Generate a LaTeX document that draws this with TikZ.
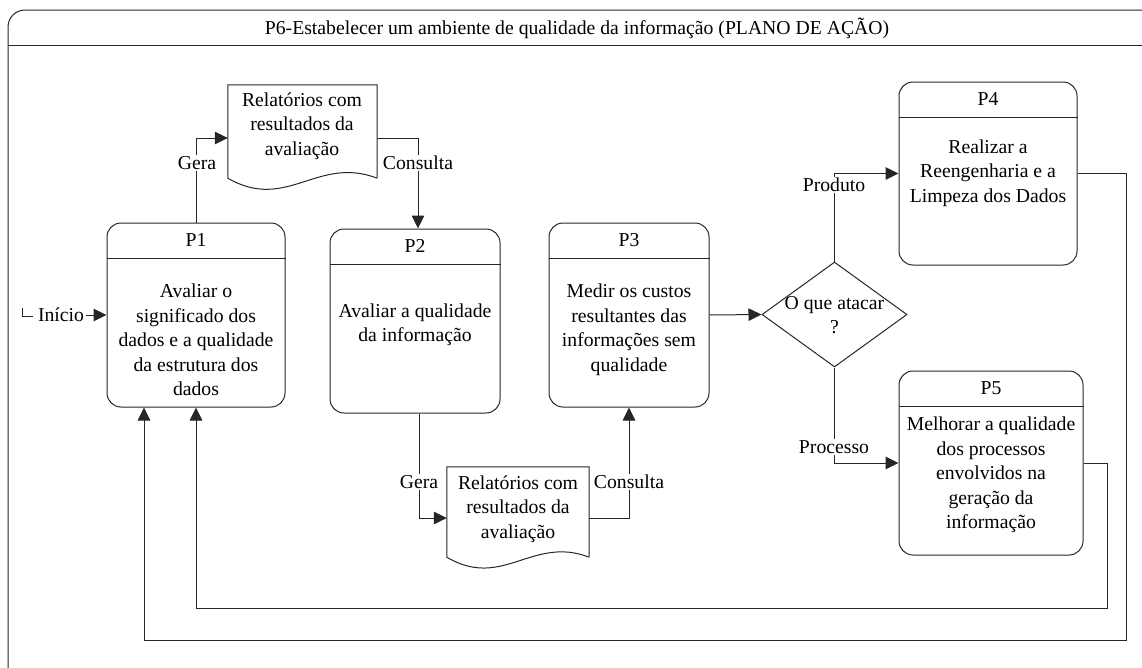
\documentclass[tikz,border=0pt]{standalone}
\usepackage{fontspec}
\setmainfont{Liberation Serif}
\usetikzlibrary{arrows.meta,shapes.geometric}
\begin{document}
\begin{tikzpicture}[x=1pt,y=-1pt,
  every node/.style={font=\fontsize{19.7}{24.5}\selectfont},
  ln/.style={line width=1pt,draw=black!85},
  arr/.style={ln,-{Triangle[length=13pt,width=12.5pt]}},
  proc/.style={ln,rectangle,rounded corners=14pt,inner sep=0pt},
  txt/.style={align=center,inner sep=1pt},
  lbl/.style={fill=white,inner sep=1.5pt},
  docu/.style={rectangle,inner sep=0pt},
]
\useasboundingbox (0,0) rectangle (1142,667);

% outer swimlane frame with its title bar
\begin{scope}
  \clip (0,0) rectangle (1142,667);
  \draw[ln,rounded corners=17pt] (8,10) rectangle (1160,685);
  \draw[ln] (8,45) -- (1160,45);
\end{scope}
\node[txt] (title) at (577,28) {P6-Estabelecer um ambiente de qualidade da informação (PLANO DE AÇÃO)};

% process boxes
\node[proc,minimum width=178pt,minimum height=184pt] (p1) at (196,315) {};
\node[proc,minimum width=170pt,minimum height=184pt] (p2) at (415,321) {};
\node[proc,minimum width=160pt,minimum height=184pt] (p3) at (629,315) {};
\node[proc,minimum width=178pt,minimum height=183pt] (p4) at (988,173.5) {};
\node[proc,minimum width=184pt,minimum height=184pt] (p5) at (991,463) {};
\foreach \p in {p1,p2,p3,p4,p5}
  \draw[ln] ([yshift=-35.5pt]\p.north west) -- ([yshift=-35.5pt]\p.north east);

\node[txt] (p1h) at ([yshift=-17.5pt]p1.north) {P1};
\node[txt] (p2h) at ([yshift=-17.5pt]p2.north) {P2};
\node[txt] (p3h) at ([yshift=-17.5pt]p3.north) {P3};
\node[txt] (p4h) at ([yshift=-17.5pt]p4.north) {P4};
\node[txt] (p5h) at ([yshift=-17.5pt]p5.north) {P5};

\node[txt] (p1t) at (196,340) {Avaliar o\\significado dos\\dados e a qualidade\\da estrutura dos\\dados};
\node[txt] (p2t) at (415,325) {Avaliar a qualidade\\da informação};
\node[txt] (p3t) at (629,330) {Medir os custos\\resultantes das\\informações sem\\qualidade};
\node[txt] (p4t) at (988,173) {Realizar a\\Reengenharia e a\\Limpeza dos Dados};
\node[txt] (p5t) at (991,475) {Melhorar a qualidade\\dos processos\\envolvidos na\\geração da\\informação};

% decision
\node[ln,diamond,minimum width=145pt,minimum height=105pt,inner sep=0pt] (dia) at (834.5,314.5) {};
\node[txt] (diat) at (834.5,315) {O que atacar\\?};

% report documents
\node[docu,minimum width=149pt,minimum height=93pt] (d1) at (302.5,131.5) {};
\draw[ln] (d1.south east) -- (d1.north east) -- (d1.north west) -- (d1.south west)
  .. controls +(59,34) and +(-60,-23) .. (d1.south east);
\node[txt] (d1t) at (302,126) {Relatórios com\\resultados da\\avaliação};

\node[docu,minimum width=142pt,minimum height=90pt] (d2) at (518,512) {};
\draw[ln] (d2.south east) -- (d2.north east) -- (d2.north west) -- (d2.south west)
  .. controls +(56,33) and +(-57,-22) .. (d2.south east);
\node[txt] (d2t) at (518,509) {Relatórios com\\resultados da\\avaliação};

% start
\node[inner sep=2pt] (inicio) at (61,315) {Início};
\draw[line width=0.6pt,draw=black!85] ([xshift=-14pt,yshift=7pt]inicio.west) |- ([xshift=-3pt,yshift=-1pt]inicio.west);
\draw[arr] (inicio.east) -- (p1.west);

% flows
\draw[arr] (p1.north) |- ([yshift=-6.5pt]d1.west);
\draw[arr] ([yshift=-6.5pt]d1.east) -| ([xshift=3pt]p2.north);
\draw[arr] ([xshift=4pt]p2.south) |- ([yshift=-6pt]d2.west);
\draw[arr] ([yshift=-6pt]d2.east) -| (p3.south);
\draw[arr] (p3.east) -- (dia.west);
\draw[arr] (dia.north) |- (p4.west);
\draw[arr] (dia.south) |- (p5.west);

\coordinate (r4) at (1126,640);
\coordinate (r5) at (1107,608);
\draw[arr] (p4.east) -| (r4) -| ([xshift=-52pt]p1.south);
\draw[arr] (p5.east) -| (r5) -| (p1.south);

% flow labels
\node[lbl] (g1) at (197,163) {Gera};
\node[lbl] (c1) at (418,163) {Consulta};
\node[lbl] (g2) at (419,482) {Gera};
\node[lbl] (c2) at (629,482) {Consulta};
\node[lbl] (prod) at (834,185) {Produto};
\node[lbl] (proc) at (834,447) {Processo};
\end{tikzpicture}
\end{document}
